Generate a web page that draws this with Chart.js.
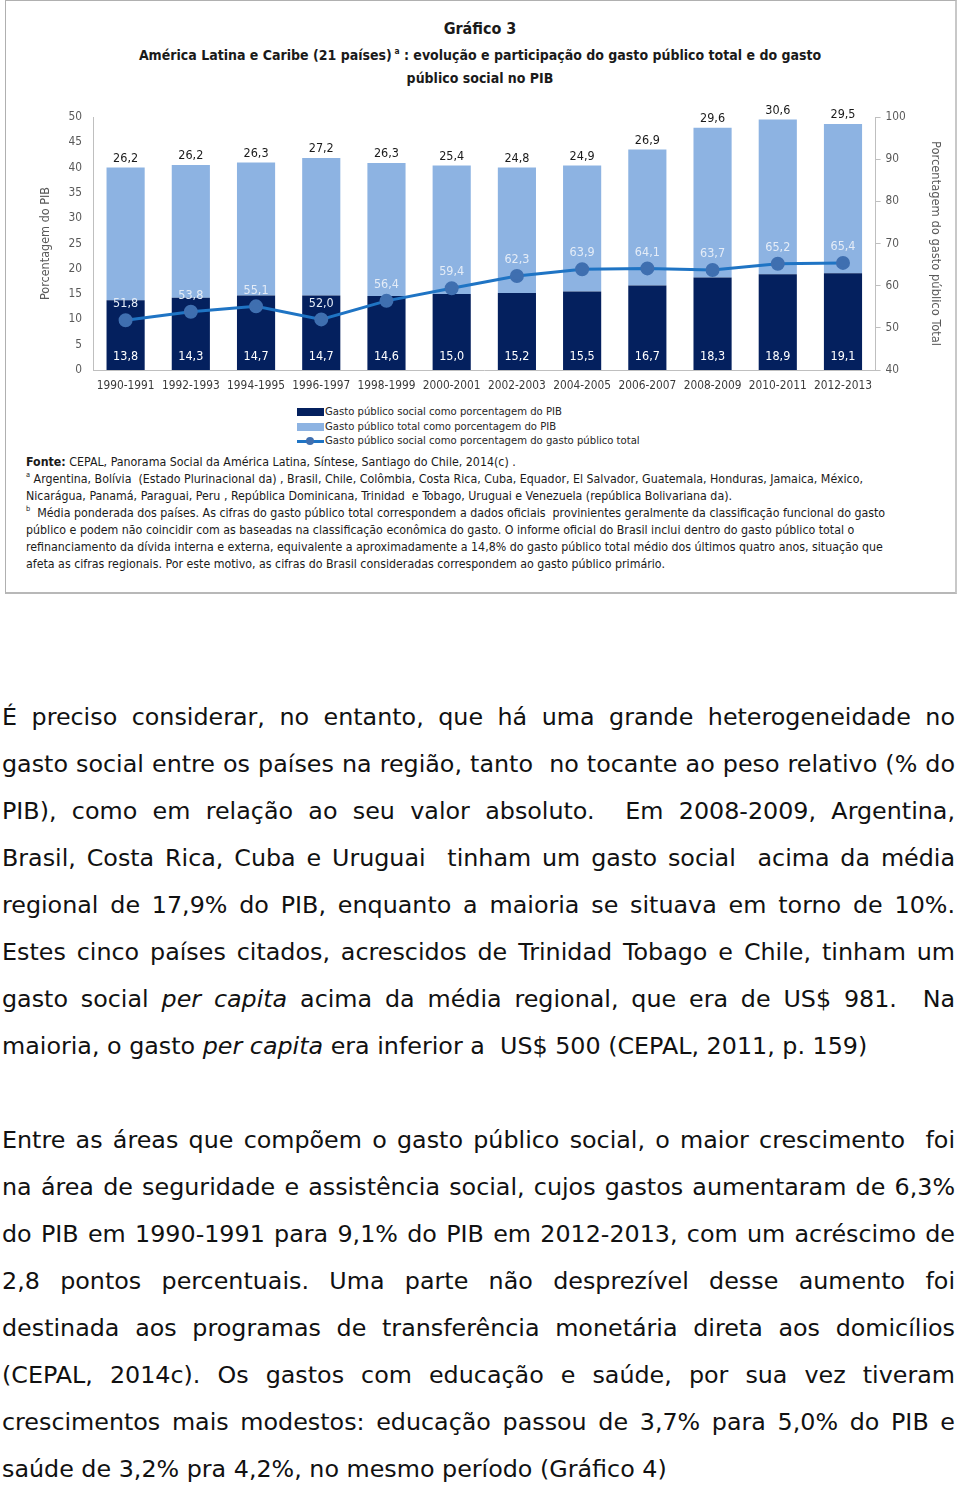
<!DOCTYPE html>
<html>
<head>
<meta charset="utf-8">
<script src="https://cdn.jsdelivr.net/npm/chart.js@4.4.1/dist/chart.umd.min.js"></script>
<style>
  html, body { margin:0; padding:0; background:#fff; }
  body { width:960px; height:1485px; position:relative; overflow:hidden; }
  #box { position:absolute; left:5px; top:0px; width:949px; height:591px; border:1px solid #b0b0b0; border-right:2px solid #c8c8c8; border-bottom:2px solid #b8b8b8; }
  .narrow { font-family:"Liberation Sans Narrow","Arial Narrow","DejaVu Sans Condensed",sans-serif; }
  #t1 { position:absolute; left:0; width:960px; top:19px; text-align:center; font-weight:bold; font-size:16px; color:#1a1a1a; }
  #t2 { position:absolute; left:0; width:960px; top:44px; text-align:center; font-weight:bold; font-size:14px; line-height:23px; color:#1a1a1a; }
  sup { font-size:60%; vertical-align:6px; line-height:0; }
  #cwrap { position:absolute; left:0; top:95px; width:960px; height:305px; }
  #legend { position:absolute; left:297px; top:405px; font-size:11.2px; color:#262626; }
  .li { height:14.5px; line-height:14.5px; display:flex; align-items:center; white-space:nowrap; }
  .sw { width:27px; height:8px; margin-right:1px; position:relative; }
  #notes { position:absolute; left:26px; top:454px; width:900px; font-size:12.3px; line-height:17px; color:#1a1a1a; }
  #notes p { margin:0; white-space:nowrap; }
  #body { position:absolute; left:2px; top:694px; width:953px; font-family:"DejaVu Sans",sans-serif; font-size:23.8px; line-height:47px; color:#111; }
  #body .l { display:block; text-align:justify; text-align-last:justify; white-space:nowrap; height:47px; }
  #body .l.last { text-align-last:left; }
  #body .gap { height:47px; }
</style>
</head>
<body>
<div id="box"></div>
<div id="t1" class="narrow">Gráfico 3</div>
<div id="t2" class="narrow">América Latina e Caribe (21 países)<sup> a</sup> : evolução e participação do gasto público total e do gasto<br>público social no PIB</div>
<div id="cwrap"><canvas id="c" width="960" height="305" style="width:960px;height:305px"></canvas></div>
<div id="legend" class="narrow"></div>
<div id="notes" class="narrow">
<p><b>Fonte:</b> CEPAL, Panorama Social da América Latina, Síntese, Santiago do Chile, 2014(c) .</p>
<p><sup>a</sup> Argentina, Bolívia&nbsp; (Estado Plurinacional da) , Brasil, Chile, Colômbia, Costa Rica, Cuba, Equador, El Salvador, Guatemala, Honduras, Jamaica, México,</p>
<p>Nicarágua, Panamá, Paraguai, Peru , República Dominicana, Trinidad&nbsp; e Tobago, Uruguai e Venezuela (república Bolivariana da).</p>
<p><sup>b</sup>&nbsp; Média ponderada dos países. As cifras do gasto público total correspondem a dados oficiais&nbsp; provinientes geralmente da classificação funcional do gasto</p>
<p>público e podem não coincidir com as baseadas na classificação econômica do gasto. O informe oficial do Brasil inclui dentro do gasto público total o</p>
<p>refinanciamento da dívida interna e externa, equivalente a aproximadamente a 14,8% do gasto público total médio dos últimos quatro anos, situação que</p>
<p>afeta as cifras regionais. Por este motivo, as cifras do Brasil consideradas correspondem ao gasto público primário.</p>
</div>
<div id="body">
<span class="l">É preciso considerar, no entanto, que há uma grande heterogeneidade no</span>
<span class="l">gasto social entre os países na região, tanto&nbsp; no tocante ao peso relativo (% do</span>
<span class="l">PIB), como em relação ao seu valor absoluto.&nbsp; Em 2008-2009, Argentina,</span>
<span class="l">Brasil, Costa Rica, Cuba e Uruguai&nbsp; tinham um gasto social&nbsp; acima da média</span>
<span class="l">regional de 17,9% do PIB, enquanto a maioria se situava em torno de 10%.</span>
<span class="l">Estes cinco países citados, acrescidos de Trinidad Tobago e Chile, tinham um</span>
<span class="l">gasto social <i>per capita</i> acima da média regional, que era de US$ 981.&nbsp; Na</span>
<span class="l last">maioria, o gasto <i>per capita</i> era inferior a&nbsp; US$ 500 (CEPAL, 2011, p. 159)</span>
<div class="gap"></div>
<span class="l">Entre as áreas que compõem o gasto público social, o maior crescimento&nbsp; foi</span>
<span class="l">na área de seguridade e assistência social, cujos gastos aumentaram de 6,3%</span>
<span class="l">do PIB em 1990-1991 para 9,1% do PIB em 2012-2013, com um acréscimo de</span>
<span class="l">2,8 pontos percentuais. Uma parte não desprezível desse aumento foi</span>
<span class="l">destinada aos programas de transferência monetária direta aos domicílios</span>
<span class="l">(CEPAL, 2014c). Os gastos com educação e saúde, por sua vez tiveram</span>
<span class="l">crescimentos mais modestos: educação passou de 3,7% para 5,0% do PIB e</span>
<span class="l last">saúde de 3,2% pra 4,2%, no mesmo período (Gráfico 4)</span>
</div>
<script>
const categories = ["1990-1991","1992-1993","1994-1995","1996-1997","1998-1999","2000-2001","2002-2003","2004-2005","2006-2007","2008-2009","2010-2011","2012-2013"];
const socialPIB = [13.8,14.3,14.7,14.7,14.6,15.0,15.2,15.5,16.7,18.3,18.9,19.1];
const totalPIB  = [26.2,26.2,26.3,27.2,26.3,25.4,24.8,24.9,26.9,29.6,30.6,29.5];
const socialShare = [51.8,53.8,55.1,52.0,56.4,59.4,62.3,63.9,64.1,63.7,65.2,65.4];
const leftTicks = [0,5,10,15,20,25,30,35,40,45,50];
const rightTicks = [40,50,60,70,80,90,100];
const seriesNames = ["Gasto público social como porcentagem do PIB","Gasto público total como porcentagem do PIB","Gasto público social como porcentagem do gasto público total"];

const NAVY = "#04205e", LIGHT = "#8db3e2", LINE = "#1f74c4", MARK = "#3f6fb0";
const fmt = v => v.toFixed(1).replace(".", ",");
const FONT = "'DejaVu Sans Condensed','Liberation Sans Narrow',sans-serif";

const labelPlugin = {
  id: "labels",
  afterDatasetsDraw(chart) {
    const ctx = chart.ctx;
    ctx.save();
    ctx.textAlign = "center";
    ctx.textBaseline = "middle";
    ctx.font = "12.5px " + FONT;
    const mSoc = chart.getDatasetMeta(0), mTot = chart.getDatasetMeta(1), mLine = chart.getDatasetMeta(2);
    const yb = chart.scales.y.getPixelForValue(0);
    mTot.data.forEach((el, i) => {
      ctx.fillStyle = "#1a1a1a";
      ctx.fillText(fmt(totalPIB[i]), el.x, el.y - 9);
    });
    mSoc.data.forEach((el, i) => {
      ctx.fillStyle = "#ffffff";
      ctx.fillText(fmt(socialPIB[i]), el.x, yb - 13);
    });
    mLine.data.forEach((el, i) => {
      ctx.fillStyle = "#e4ecf7";
      ctx.fillText(fmt(socialShare[i]), el.x, el.y - 16);
    });
    ctx.restore();
  }
};

new Chart(document.getElementById("c"), {
  data: {
    labels: categories,
    datasets: [
      { type:"bar", label:seriesNames[0], data:socialPIB, backgroundColor:NAVY, stack:"s", yAxisID:"y", order:2, barPercentage:1, categoryPercentage:0.585 },
      { type:"bar", label:seriesNames[1], data:totalPIB, backgroundColor:LIGHT, stack:"s", yAxisID:"y", order:3, barPercentage:1, categoryPercentage:0.585 },
      { type:"line", label:seriesNames[2], data:socialShare, borderColor:LINE, borderWidth:3, pointRadius:5.5, pointBackgroundColor:MARK, pointBorderColor:MARK, yAxisID:"y1", order:1, tension:0 }
    ]
  },
  options: {
    responsive:false, maintainAspectRatio:false, animation:false, devicePixelRatio:1,
    layout:{ padding:{ left:35, right:14, top:22, bottom:0 } },
    plugins:{ legend:{display:false}, tooltip:{enabled:false}, title:{display:false} },
    scales:{
      x:{ stacked:true, grid:{display:false, drawTicks:false}, border:{color:"#bfbfbf"},
          ticks:{ color:"#3a3a3a", font:{family:FONT, size:11.8}, padding:9, maxRotation:0, autoSkip:false },
          afterFit(s){ s.height = 30; } },
      y:{ stacked:true, position:"left", min:0, max:50, grid:{display:false, drawTicks:false}, border:{color:"#bfbfbf"},
          afterBuildTicks(s){ s.ticks = leftTicks.map(v=>({value:v})); },
          ticks:{ color:"#595959", font:{family:FONT, size:11.8}, padding:11 },
          title:{ display:true, text:"Porcentagem do PIB", color:"#595959", font:{family:FONT, size:12.5}, padding:{top:3,bottom:0} },
          afterFit(s){ s.width = 58; } },
      y1:{ position:"right", min:40, max:100, grid:{ drawOnChartArea:false, color:"#bfbfbf", tickLength:5 }, border:{color:"#bfbfbf"},
          afterBuildTicks(s){ s.ticks = rightTicks.map(v=>({value:v})); },
          ticks:{ color:"#595959", font:{family:FONT, size:11.8}, padding:5 },
          title:{ display:true, text:"Porcentagem do gasto público Total", color:"#595959", font:{family:FONT, size:12.8}, padding:{top:3,bottom:0} },
          afterFit(s){ s.width = 70.4; } }
    }
  },
  plugins:[labelPlugin]
});
</script>
<script>
const lg = document.getElementById("legend");
const cols = ["#04205e", "#8db3e2"];
seriesNames.forEach((n, i) => {
  const d = document.createElement("div"); d.className = "li";
  const sw = document.createElement("span"); sw.className = "sw";
  if (i < 2) { sw.style.background = cols[i]; }
  else {
    sw.innerHTML = '<span style="position:absolute;left:0;top:2.5px;width:27px;height:3px;background:#1f74c4"></span><span style="position:absolute;left:9px;top:0;width:8px;height:8px;border-radius:50%;background:#3f6fb0"></span>';
  }
  d.appendChild(sw);
  const t = document.createElement("span"); t.textContent = n; d.appendChild(t);
  lg.appendChild(d);
});
</script>
</body>
</html>
